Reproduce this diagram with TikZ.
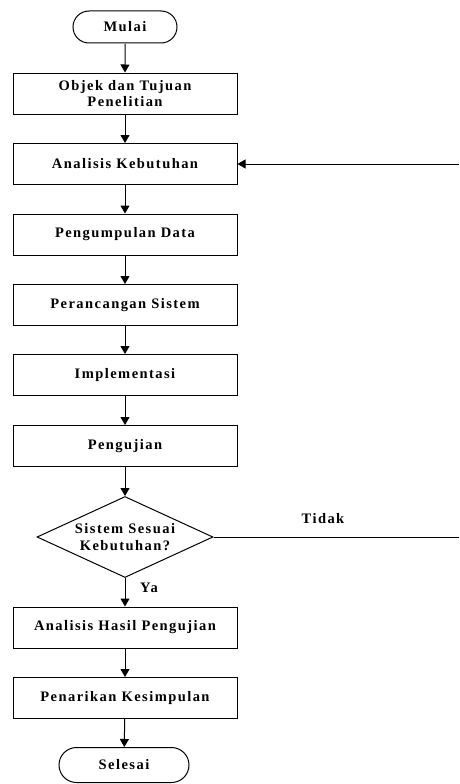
\documentclass[tikz,border=0pt]{standalone}
\usepackage{fontspec}
\setmainfont{Liberation Serif}[LetterSpace=10]
\usetikzlibrary{shapes.geometric,shapes.misc,arrows.meta}
\begin{document}
\begin{tikzpicture}[x=1pt,y=-1pt,
  every node/.style={font=\fontsize{14.5}{16.5}\selectfont\bfseries},
  procbox/.style={draw,line width=1pt,minimum width=224pt,minimum height=41pt,align=center,inner sep=1pt},
  term/.style={draw,line width=1pt,rounded rectangle,minimum height=32pt,inner sep=1pt},
  decide/.style={draw,line width=1pt,diamond,aspect=2.17,minimum width=176pt,minimum height=81pt,inner sep=0pt,align=center},
  flow/.style={line width=1pt,-{Triangle[width=9pt,length=8pt]}},
  plain/.style={line width=1pt},
  lbl/.style={inner sep=0pt}]
\useasboundingbox (0,0) rectangle (459,784);
\node[term,minimum width=106pt] (mulai) at (125,27) {Mulai};
\node[procbox] (objek) at (125,93.5) {Objek dan Tujuan\\Penelitian};
\node[procbox] (analisis) at (125,164) {Analisis Kebutuhan};
\node[procbox] (kumpul) at (125,234.5) {Pengumpulan Data};
\node[procbox] (rancang) at (125,305) {Perancangan Sistem};
\node[procbox] (impl) at (125,375) {Implementasi};
\node[procbox] (uji) at (125,446) {Pengujian};
\node[decide] (sesuai) at (125,537) {Sistem Sesuai\\Kebutuhan?};
\node[procbox] (hasil) at (125,627.5) {Analisis Hasil Pengujian};
\node[procbox] (tarik) at (125,698) {Penarikan Kesimpulan};
\node[term,minimum width=132pt,minimum height=35pt] (selesai) at (124,765) {Selesai};
\coordinate (ret) at (459,164);
\coordinate (out) at (459,537);
\draw[flow] (mulai) -- (objek);
\draw[flow] (objek) -- (analisis);
\draw[flow] (analisis) -- (kumpul);
\draw[flow] (kumpul) -- (rancang);
\draw[flow] (rancang) -- (impl);
\draw[flow] (impl) -- (uji);
\draw[flow] (uji) -- (sesuai);
\draw[flow] (sesuai) -- (hasil);
\draw[flow] (hasil) -- (tarik);
\draw[flow] (tarik) -- (selesai);
\draw[plain] (sesuai.east) -- (out);
\draw[flow] (ret) -- (analisis.east);
\node[lbl] (tidak) at (323,519) {Tidak};
\node[lbl] (ya) at (149,588) {Ya};
\end{tikzpicture}
\end{document}
